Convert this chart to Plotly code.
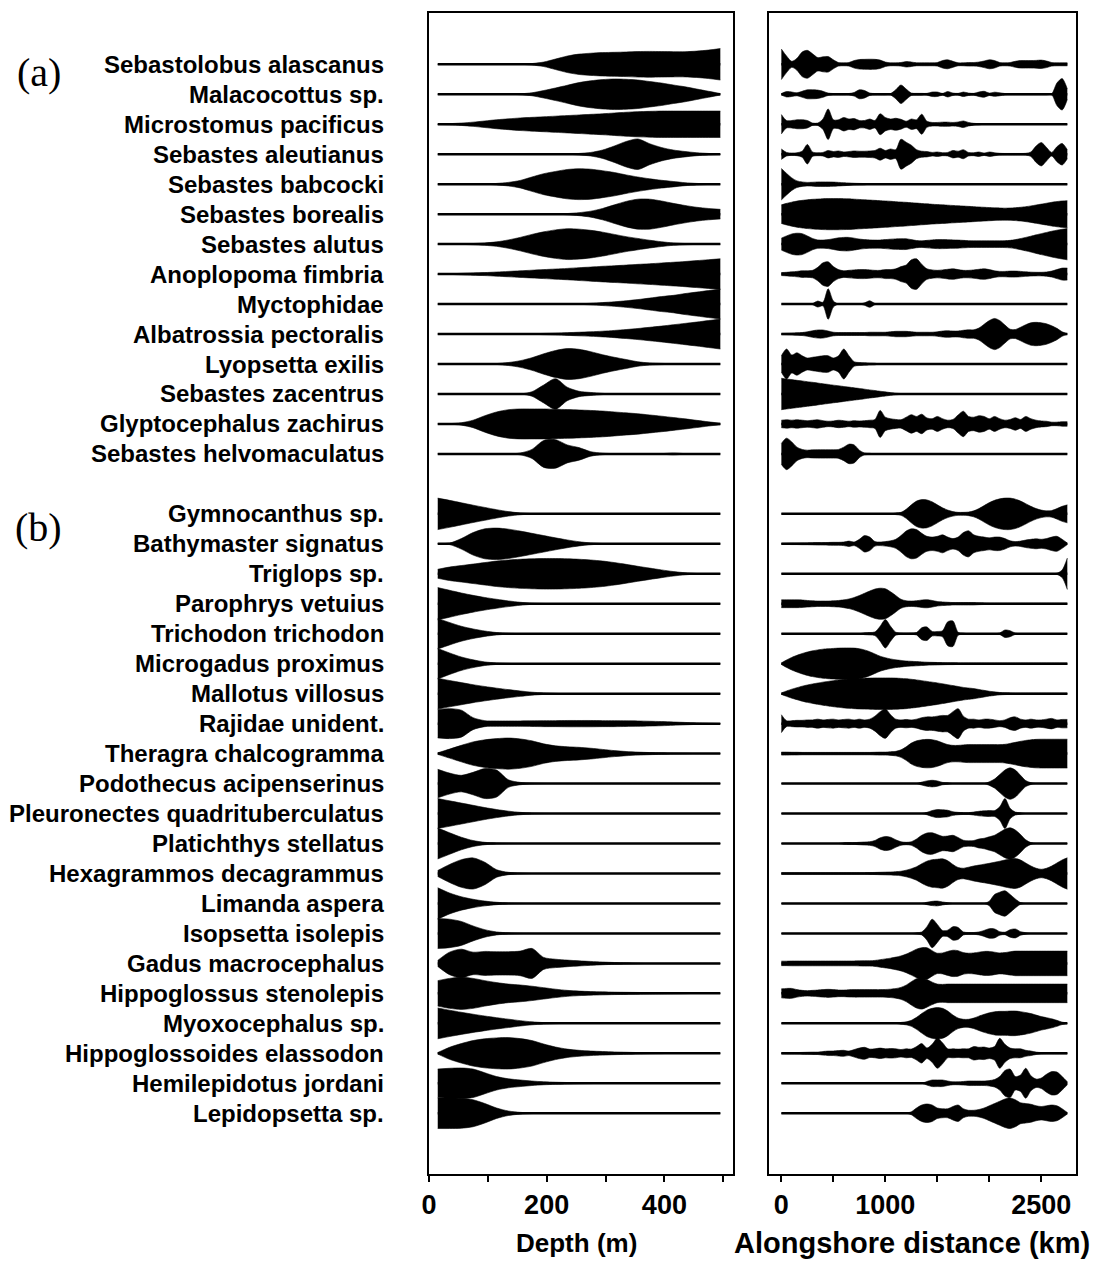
import plotly.graph_objects as go

# Sample positions along each axis
DEPTH_M = list(range(15, 500, 20))          # 25 depths, 15..495 m
ALONG_KM = list(range(0, 2751, 50))         # 56 positions, 0..2750 km

SPECIES_A = [
    "Sebastolobus alascanus", "Malacocottus sp.", "Microstomus pacificus",
    "Sebastes aleutianus", "Sebastes babcocki", "Sebastes borealis",
    "Sebastes alutus", "Anoplopoma fimbria", "Myctophidae",
    "Albatrossia pectoralis", "Lyopsetta exilis", "Sebastes zacentrus",
    "Glyptocephalus zachirus", "Sebastes helvomaculatus",
]
SPECIES_B = [
    "Gymnocanthus sp.", "Bathymaster signatus", "Triglops sp.",
    "Parophrys vetuius", "Trichodon trichodon", "Microgadus proximus",
    "Mallotus villosus", "Rajidae unident.", "Theragra chalcogramma",
    "Podothecus acipenserinus", "Pleuronectes quadrituberculatus",
    "Platichthys stellatus", "Hexagrammos decagrammus", "Limanda aspera",
    "Isopsetta isolepis", "Gadus macrocephalus", "Hippoglossus stenolepis",
    "Myoxocephalus sp.", "Hippoglossoides elassodon", "Hemilepidotus jordani",
    "Lepidopsetta sp.",
]

# Relative abundance by depth (one row per species, values at DEPTH_M)
DEPTH_A = [
    [0, 0, 0, 0, 0, 0, 0, 0, 0.05, 0.15, 0.35, 0.55, 0.68, 0.74, 0.78, 0.8, 0.82, 0.85, 0.86, 0.85, 0.84, 0.84, 0.88, 0.95, 1.05],
    [0, 0, 0, 0, 0, 0, 0, 0.03, 0.1, 0.25, 0.42, 0.6, 0.78, 0.9, 0.98, 1.02, 1.0, 0.95, 0.85, 0.75, 0.62, 0.5, 0.35, 0.2, 0.05],
    [0.02, 0.04, 0.08, 0.14, 0.22, 0.3, 0.36, 0.42, 0.46, 0.5, 0.54, 0.58, 0.62, 0.66, 0.7, 0.75, 0.8, 0.84, 0.86, 0.88, 0.88, 0.88, 0.88, 0.88, 0.88],
    [0, 0, 0, 0, 0, 0, 0, 0, 0, 0, 0, 0, 0.05, 0.12, 0.28, 0.55, 0.85, 1.02, 0.7, 0.45, 0.28, 0.18, 0.1, 0.05, 0.02],
    [0, 0, 0, 0, 0, 0.05, 0.12, 0.25, 0.48, 0.7, 0.85, 0.98, 1.03, 1.0, 0.9, 0.78, 0.62, 0.48, 0.36, 0.26, 0.18, 0.1, 0.05, 0.02, 0],
    [0, 0, 0, 0, 0, 0, 0, 0, 0, 0, 0, 0.04, 0.1, 0.2, 0.38, 0.62, 0.85, 1.0, 1.0, 0.88, 0.72, 0.58, 0.46, 0.38, 0.32],
    [0, 0, 0.02, 0.04, 0.08, 0.15, 0.28, 0.45, 0.65, 0.82, 0.95, 1.03, 1.0, 0.92, 0.8, 0.65, 0.5, 0.38, 0.26, 0.16, 0.08, 0.04, 0.02, 0.01, 0],
    [0.01, 0.02, 0.05, 0.08, 0.1, 0.14, 0.18, 0.22, 0.26, 0.3, 0.34, 0.38, 0.43, 0.47, 0.52, 0.56, 0.6, 0.65, 0.69, 0.74, 0.79, 0.84, 0.9, 0.96, 1.02],
    [0, 0, 0, 0, 0, 0, 0, 0, 0, 0, 0, 0, 0.02, 0.05, 0.1, 0.15, 0.22, 0.3, 0.4, 0.5, 0.58, 0.7, 0.8, 0.9, 1.0],
    [0, 0, 0, 0, 0, 0, 0, 0, 0.02, 0.04, 0.06, 0.09, 0.12, 0.15, 0.19, 0.24, 0.3, 0.37, 0.45, 0.53, 0.62, 0.71, 0.8, 0.9, 1.0],
    [0, 0, 0, 0, 0, 0.03, 0.1, 0.22, 0.42, 0.68, 0.9, 1.03, 0.98, 0.82, 0.62, 0.45, 0.3, 0.15, 0.07, 0.04, 0.02, 0, 0, 0, 0],
    [0, 0, 0, 0, 0, 0, 0, 0, 0.15, 0.6, 1.02, 0.45, 0.18, 0.1, 0.04, 0, 0, 0, 0, 0, 0, 0, 0, 0, 0],
    [0, 0.02, 0.08, 0.25, 0.55, 0.8, 0.95, 1.0, 1.0, 1.0, 0.98, 0.96, 0.93, 0.9, 0.86, 0.8, 0.74, 0.68, 0.6, 0.52, 0.43, 0.34, 0.24, 0.14, 0.05],
    [0, 0, 0, 0, 0, 0, 0, 0.06, 0.3, 0.9, 0.95, 0.6, 0.42, 0.15, 0.05, 0.02, 0.02, 0.02, 0.02, 0.02, 0.06, 0.02, 0, 0, 0],
]
DEPTH_B = [
    [1.05, 0.9, 0.74, 0.58, 0.43, 0.28, 0.15, 0.06, 0.02, 0, 0, 0, 0, 0, 0, 0, 0, 0, 0, 0, 0, 0, 0, 0, 0],
    [0.02, 0.05, 0.35, 0.75, 1.0, 1.05, 0.98, 0.85, 0.7, 0.55, 0.4, 0.26, 0.14, 0.06, 0.02, 0, 0, 0, 0, 0, 0, 0, 0, 0, 0],
    [0.3, 0.45, 0.55, 0.65, 0.75, 0.85, 0.92, 0.97, 1.0, 1.02, 1.02, 1.0, 0.97, 0.92, 0.85, 0.75, 0.63, 0.5, 0.38, 0.26, 0.15, 0.07, 0.02, 0, 0],
    [1.08, 0.9, 0.72, 0.56, 0.42, 0.3, 0.19, 0.1, 0.04, 0.02, 0, 0, 0, 0, 0, 0, 0, 0, 0, 0, 0, 0, 0, 0, 0],
    [1.02, 0.75, 0.5, 0.32, 0.18, 0.08, 0.03, 0.01, 0, 0, 0, 0, 0, 0, 0, 0, 0, 0, 0, 0, 0, 0, 0, 0, 0],
    [1.02, 0.72, 0.45, 0.26, 0.12, 0.05, 0.02, 0, 0, 0, 0, 0, 0, 0, 0, 0, 0, 0, 0, 0, 0, 0, 0, 0, 0],
    [1.03, 0.88, 0.74, 0.6, 0.48, 0.37, 0.27, 0.18, 0.1, 0.05, 0.02, 0, 0, 0, 0, 0, 0, 0, 0, 0, 0, 0, 0, 0, 0],
    [0.95, 1.0, 0.9, 0.4, 0.2, 0.18, 0.18, 0.18, 0.19, 0.2, 0.2, 0.21, 0.21, 0.21, 0.2, 0.2, 0.19, 0.18, 0.16, 0.14, 0.11, 0.08, 0.05, 0.03, 0.01],
    [0.05, 0.3, 0.55, 0.78, 0.92, 1.0, 1.04, 0.98, 0.85, 0.65, 0.52, 0.46, 0.42, 0.36, 0.28, 0.2, 0.14, 0.1, 0.07, 0.05, 0.03, 0.02, 0, 0, 0],
    [0.95, 0.7, 0.55, 0.75, 1.0, 0.9, 0.25, 0.08, 0.03, 0.01, 0, 0, 0, 0, 0, 0, 0, 0, 0, 0, 0, 0, 0, 0, 0],
    [1.0, 0.85, 0.7, 0.55, 0.4, 0.27, 0.16, 0.08, 0.03, 0.01, 0, 0, 0, 0, 0, 0, 0, 0, 0, 0, 0, 0, 0, 0, 0],
    [1.03, 0.72, 0.42, 0.2, 0.08, 0.03, 0.01, 0, 0, 0, 0, 0, 0, 0, 0, 0, 0, 0, 0, 0, 0, 0, 0, 0, 0],
    [0.2, 0.6, 0.92, 1.04, 0.75, 0.25, 0.08, 0.03, 0, 0, 0, 0, 0, 0, 0, 0, 0, 0, 0, 0, 0, 0, 0, 0, 0],
    [1.05, 0.7, 0.45, 0.28, 0.16, 0.08, 0.03, 0.01, 0, 0, 0, 0, 0, 0, 0, 0, 0, 0, 0, 0, 0, 0, 0, 0, 0],
    [1.0, 0.95, 0.8, 0.5, 0.25, 0.1, 0.04, 0.01, 0, 0, 0, 0, 0, 0, 0, 0, 0, 0, 0, 0, 0, 0, 0, 0, 0],
    [0.2, 0.75, 0.95, 0.75, 0.8, 0.78, 0.78, 0.82, 1.0, 0.4, 0.28, 0.22, 0.17, 0.13, 0.09, 0.06, 0.04, 0.02, 0, 0, 0, 0, 0, 0, 0],
    [0.85, 1.0, 1.07, 1.0, 0.85, 0.72, 0.62, 0.56, 0.48, 0.38, 0.28, 0.2, 0.15, 0.12, 0.1, 0.08, 0.07, 0.06, 0.05, 0.04, 0.03, 0.02, 0, 0, 0],
    [1.03, 0.88, 0.74, 0.61, 0.49, 0.38, 0.28, 0.18, 0.1, 0.05, 0.02, 0, 0, 0, 0, 0, 0, 0, 0, 0, 0, 0, 0, 0, 0],
    [0.05, 0.4, 0.65, 0.85, 0.97, 1.03, 1.05, 0.98, 0.85, 0.62, 0.42, 0.28, 0.2, 0.15, 0.12, 0.09, 0.07, 0.05, 0.03, 0.02, 0, 0, 0, 0, 0],
    [0.95, 1.0, 1.02, 0.95, 0.7, 0.45, 0.3, 0.22, 0.15, 0.1, 0.07, 0.05, 0.03, 0.02, 0, 0, 0, 0, 0, 0, 0, 0, 0, 0, 0],
    [1.02, 1.02, 1.0, 0.9, 0.65, 0.35, 0.15, 0.06, 0.02, 0, 0, 0, 0, 0, 0, 0, 0, 0, 0, 0, 0, 0, 0, 0, 0],
]

# Relative abundance along the coast (one row per species, values at ALONG_KM)
ALONG_A = [
    [1.02, 0.55, 0.2, 0.4, 0.82, 0.93, 0.7, 0.45, 0.5, 0.52,
     0.3, 0.12, 0.1, 0.12, 0.25, 0.32, 0.33, 0.34, 0.33, 0.28,
     0.15, 0.1, 0.1, 0.12, 0.18, 0.15, 0.1, 0.1, 0.1, 0.1,
     0.12, 0.25, 0.3, 0.2, 0.1, 0.1, 0.12, 0.12, 0.15, 0.22,
     0.3, 0.25, 0.12, 0.1, 0.12, 0.2, 0.25, 0.25, 0.25, 0.26,
     0.28, 0.22, 0.12, 0.1, 0.1, 0.1],
    [0.05, 0.18, 0.15, 0.1, 0.2, 0.3, 0.3, 0.28, 0.2, 0.08,
     0.05, 0.05, 0.05, 0.05, 0.12, 0.3, 0.25, 0.08, 0.05, 0.05,
     0.05, 0.05, 0.3, 0.62, 0.35, 0.08, 0.06, 0.06, 0.06, 0.15,
     0.15, 0.06, 0.18, 0.08, 0.06, 0.15, 0.08, 0.06, 0.15, 0.2,
     0.08, 0.14, 0.1, 0.05, 0.04, 0.04, 0.04, 0.04, 0.04, 0.04,
     0.04, 0.04, 0.04, 0.75, 1.05, 0.35],
    [0.65, 0.25, 0.25, 0.3, 0.3, 0.25, 0.08, 0.08, 0.35, 1.02,
     0.3, 0.3, 0.45, 0.35, 0.38, 0.25, 0.25, 0.35, 0.25, 0.7,
     0.45, 0.35, 0.4, 0.33, 0.2, 0.35, 0.3, 0.67, 0.2, 0.12,
     0.12, 0.14, 0.14, 0.12, 0.15, 0.22, 0.12, 0.06, 0.04, 0,
     0, 0, 0, 0, 0, 0, 0, 0, 0, 0,
     0, 0, 0, 0, 0, 0],
    [0.35, 0.12, 0.08, 0.1, 0.2, 0.65, 0.15, 0.1, 0.12, 0.25,
     0.18, 0.22, 0.15, 0.18, 0.22, 0.2, 0.2, 0.22, 0.25, 0.4,
     0.25, 0.35, 0.3, 1.0, 0.8, 0.6, 0.3, 0.2, 0.18, 0.12,
     0.15, 0.1, 0.12, 0.25, 0.2, 0.3, 0.12, 0.1, 0.15, 0.08,
     0.15, 0.1, 0.06, 0.05, 0.05, 0.05, 0.05, 0.06, 0.15, 0.55,
     0.78, 0.45, 0.12, 0.5, 0.72, 0.3],
    [1.05, 0.72, 0.42, 0.22, 0.15, 0.12, 0.13, 0.15, 0.15, 0.15,
     0.14, 0.12, 0.1, 0.08, 0.06, 0.05, 0.04, 0, 0, 0,
     0, 0, 0, 0, 0, 0, 0, 0, 0, 0,
     0, 0, 0, 0, 0, 0, 0, 0, 0, 0,
     0, 0, 0, 0, 0, 0, 0, 0, 0, 0,
     0, 0, 0, 0, 0, 0],
    [0.62, 0.72, 0.8, 0.87, 0.92, 0.96, 0.99, 1.01, 1.03, 1.04,
     1.04, 1.04, 1.03, 1.02, 1.0, 0.98, 0.96, 0.94, 0.92, 0.9,
     0.88, 0.86, 0.83, 0.81, 0.79, 0.76, 0.74, 0.71, 0.69, 0.66,
     0.64, 0.62, 0.6, 0.58, 0.56, 0.54, 0.52, 0.5, 0.48, 0.46,
     0.44, 0.42, 0.41, 0.4, 0.41, 0.43, 0.46, 0.5, 0.55, 0.61,
     0.67, 0.73, 0.79, 0.84, 0.88, 0.9],
    [0.4, 0.55, 0.68, 0.73, 0.7, 0.55, 0.38, 0.28, 0.27, 0.3,
     0.36, 0.42, 0.45, 0.45, 0.4, 0.34, 0.3, 0.28, 0.27, 0.27,
     0.3, 0.33, 0.35, 0.36, 0.36, 0.3, 0.24, 0.22, 0.25, 0.28,
     0.3, 0.3, 0.29, 0.28, 0.27, 0.25, 0.23, 0.22, 0.22, 0.22,
     0.22, 0.22, 0.22, 0.23, 0.25, 0.3, 0.37, 0.45, 0.53, 0.62,
     0.7, 0.78, 0.86, 0.93, 0.99, 1.05],
    [0.1, 0.12, 0.15, 0.18, 0.22, 0.22, 0.25, 0.45, 0.75, 0.82,
     0.5, 0.3, 0.22, 0.25, 0.28, 0.3, 0.3, 0.28, 0.25, 0.25,
     0.3, 0.3, 0.35, 0.5, 0.6, 0.95, 1.02, 0.65, 0.35, 0.28,
     0.25, 0.28, 0.32, 0.35, 0.3, 0.25, 0.25, 0.28, 0.32, 0.35,
     0.3, 0.22, 0.18, 0.18, 0.2, 0.2, 0.18, 0.15, 0.13, 0.12,
     0.12, 0.14, 0.2, 0.3, 0.4, 0.4],
    [0, 0, 0, 0, 0, 0, 0.04, 0.2, 0.12, 1.02,
     0.2, 0, 0, 0, 0, 0, 0.08, 0.22, 0.04, 0,
     0, 0, 0, 0, 0, 0, 0, 0, 0, 0,
     0, 0, 0, 0, 0, 0, 0, 0, 0, 0,
     0, 0, 0, 0, 0, 0, 0, 0, 0, 0,
     0, 0, 0, 0, 0, 0],
    [0.04, 0.05, 0.06, 0.08, 0.1, 0.15, 0.22, 0.27, 0.27, 0.2,
     0.12, 0.1, 0.1, 0.1, 0.1, 0.1, 0.1, 0.12, 0.12, 0.12,
     0.12, 0.15, 0.18, 0.18, 0.18, 0.15, 0.12, 0.12, 0.12, 0.12,
     0.15, 0.2, 0.22, 0.2, 0.2, 0.25, 0.28, 0.28, 0.4, 0.65,
     0.9, 1.04, 0.9, 0.6, 0.32, 0.3, 0.45, 0.62, 0.75, 0.78,
     0.75, 0.68, 0.55, 0.38, 0.15, 0.02],
    [0.55, 1.0, 0.6, 0.75, 0.55, 0.4, 0.45, 0.5, 0.55, 0.55,
     0.4, 0.55, 1.0, 0.55, 0.15, 0.1, 0.08, 0.06, 0.05, 0,
     0, 0, 0, 0, 0, 0, 0, 0, 0, 0,
     0, 0, 0, 0, 0, 0, 0, 0, 0, 0,
     0, 0, 0, 0, 0, 0, 0, 0, 0, 0,
     0, 0, 0, 0, 0, 0],
    [1.05, 1.0, 0.96, 0.91, 0.87, 0.82, 0.78, 0.73, 0.68, 0.64,
     0.59, 0.55, 0.5, 0.46, 0.41, 0.37, 0.32, 0.27, 0.23, 0.18,
     0.14, 0.09, 0.05, 0.03, 0, 0, 0, 0, 0, 0,
     0, 0, 0, 0, 0, 0, 0, 0, 0, 0,
     0, 0, 0, 0, 0, 0, 0, 0, 0, 0,
     0, 0, 0, 0, 0, 0],
    [0.25, 0.28, 0.25, 0.28, 0.25, 0.22, 0.25, 0.28, 0.22, 0.18,
     0.2, 0.25, 0.22, 0.18, 0.22, 0.2, 0.22, 0.25, 0.3, 0.9,
     0.45, 0.35, 0.3, 0.28, 0.45, 0.62, 0.5, 0.65, 0.4, 0.35,
     0.5, 0.35, 0.25, 0.3, 0.6, 0.85, 0.5, 0.45, 0.55, 0.5,
     0.35, 0.5, 0.35, 0.25, 0.3, 0.42, 0.3, 0.5, 0.35, 0.25,
     0.2, 0.18, 0.12, 0.12, 0.15, 0.15],
    [0.7, 1.05, 0.8, 0.45, 0.3, 0.25, 0.27, 0.28, 0.28, 0.28,
     0.28, 0.3, 0.45, 0.65, 0.6, 0.25, 0.06, 0.04, 0, 0,
     0, 0, 0, 0, 0, 0, 0, 0, 0, 0,
     0, 0, 0, 0, 0, 0, 0, 0, 0, 0,
     0, 0, 0, 0, 0, 0, 0, 0, 0, 0,
     0, 0, 0, 0, 0, 0],
]
ALONG_B = [
    [0, 0, 0, 0, 0, 0, 0, 0, 0, 0,
     0, 0, 0, 0, 0, 0, 0, 0, 0, 0,
     0, 0, 0.05, 0.1, 0.3, 0.6, 0.85, 0.95, 0.93, 0.8,
     0.6, 0.4, 0.25, 0.15, 0.1, 0.1, 0.12, 0.2, 0.35, 0.55,
     0.75, 0.9, 1.0, 1.05, 1.05, 0.98, 0.85, 0.68, 0.5, 0.35,
     0.25, 0.2, 0.22, 0.35, 0.5, 0.6],
    [0.03, 0.04, 0.05, 0.05, 0.06, 0.06, 0.07, 0.08, 0.08, 0.09,
     0.1, 0.1, 0.12, 0.18, 0.12, 0.3, 0.55, 0.45, 0.15, 0.12,
     0.15, 0.2, 0.3, 0.55, 0.85, 1.0, 0.95, 0.7, 0.5, 0.45,
     0.5, 0.6, 0.45, 0.35, 0.45, 0.75, 0.87, 0.6, 0.5, 0.45,
     0.4, 0.45, 0.45, 0.35, 0.2, 0.15, 0.18, 0.25, 0.3, 0.33,
     0.3, 0.35, 0.45, 0.5, 0.3, 0.05],
    [0, 0, 0, 0, 0, 0, 0, 0, 0, 0,
     0, 0, 0, 0, 0, 0, 0, 0, 0, 0,
     0, 0, 0, 0, 0, 0, 0, 0, 0, 0,
     0, 0, 0, 0, 0, 0, 0, 0, 0, 0,
     0, 0, 0, 0, 0, 0, 0, 0, 0, 0,
     0, 0, 0, 0.04, 0.25, 1.05],
    [0.26, 0.26, 0.26, 0.26, 0.25, 0.22, 0.2, 0.18, 0.18, 0.18,
     0.2, 0.22, 0.26, 0.32, 0.42, 0.55, 0.7, 0.85, 0.98, 1.04,
     1.0, 0.8, 0.55, 0.3, 0.2, 0.18, 0.2, 0.25, 0.27, 0.22,
     0.15, 0.12, 0.1, 0.08, 0.08, 0.08, 0.08, 0.08, 0.06, 0.05,
     0.04, 0.04, 0.04, 0.04, 0.04, 0.04, 0.04, 0.04, 0.04, 0.04,
     0.04, 0.04, 0.04, 0.04, 0.04, 0.04],
    [0, 0, 0, 0, 0, 0, 0, 0, 0, 0,
     0, 0, 0, 0, 0, 0, 0.06, 0.08, 0.12, 0.5,
     0.95, 0.5, 0.1, 0.05, 0.04, 0.05, 0.08, 0.4, 0.45, 0.15,
     0.15, 0.2, 0.8, 0.85, 0.1, 0.04, 0, 0, 0, 0,
     0, 0, 0.05, 0.25, 0.2, 0.04, 0, 0, 0, 0,
     0, 0, 0, 0, 0, 0],
    [0.05, 0.25, 0.42, 0.56, 0.68, 0.78, 0.86, 0.92, 0.97, 1.0,
     1.02, 1.04, 1.05, 1.05, 1.04, 1.0, 0.92, 0.8, 0.65, 0.5,
     0.4, 0.32, 0.26, 0.22, 0.18, 0.16, 0.14, 0.12, 0.1, 0.09,
     0.08, 0.07, 0.06, 0.06, 0.05, 0.05, 0.05, 0.05, 0.05, 0.05,
     0.05, 0.05, 0.05, 0.05, 0.05, 0.05, 0.05, 0.05, 0.05, 0.05,
     0.05, 0.05, 0.05, 0.05, 0.05, 0.05],
    [0.05, 0.18, 0.3, 0.4, 0.5, 0.58, 0.65, 0.71, 0.77, 0.82,
     0.87, 0.91, 0.95, 0.98, 1.0, 1.02, 1.03, 1.04, 1.05, 1.05,
     1.05, 1.05, 1.04, 1.02, 1.0, 0.96, 0.92, 0.87, 0.82, 0.77,
     0.72, 0.66, 0.6, 0.54, 0.48, 0.42, 0.38, 0.34, 0.28, 0.22,
     0.16, 0.12, 0.08, 0.06, 0.05, 0.04, 0.04, 0.04, 0.04, 0.04,
     0.04, 0.04, 0.04, 0.04, 0.04, 0.04],
    [0.6, 0.2, 0.2, 0.22, 0.22, 0.25, 0.25, 0.3, 0.25, 0.28,
     0.3, 0.25, 0.28, 0.3, 0.25, 0.3, 0.25, 0.3, 0.5, 0.8,
     0.98, 0.6, 0.3, 0.25, 0.28, 0.25, 0.3, 0.4, 0.45, 0.45,
     0.5, 0.55, 0.55, 0.8, 1.0, 0.5, 0.3, 0.3, 0.25, 0.3,
     0.3, 0.25, 0.2, 0.25, 0.4, 0.45, 0.3, 0.25, 0.3, 0.25,
     0.25, 0.3, 0.35, 0.25, 0.28, 0.28],
    [0.1, 0.1, 0.09, 0.09, 0.08, 0.08, 0.08, 0.08, 0.08, 0.08,
     0.08, 0.08, 0.08, 0.08, 0.08, 0.08, 0.08, 0.08, 0.09, 0.1,
     0.1, 0.12, 0.15, 0.25, 0.45, 0.7, 0.85, 0.92, 0.95, 0.93,
     0.85, 0.72, 0.6, 0.55, 0.55, 0.58, 0.6, 0.6, 0.6, 0.6,
     0.6, 0.6, 0.6, 0.62, 0.68, 0.75, 0.82, 0.88, 0.92, 0.95,
     0.96, 0.96, 0.96, 0.96, 0.96, 0.96],
    [0, 0, 0, 0, 0, 0, 0, 0, 0, 0,
     0, 0, 0, 0, 0, 0, 0, 0, 0, 0,
     0, 0, 0, 0, 0, 0, 0, 0.1, 0.18, 0.22,
     0.18, 0.08, 0.05, 0, 0, 0, 0, 0, 0, 0,
     0.12, 0.3, 0.6, 0.9, 1.05, 0.9, 0.55, 0.2, 0.06, 0,
     0, 0, 0, 0, 0, 0],
    [0, 0, 0, 0, 0, 0, 0, 0, 0, 0,
     0, 0, 0, 0, 0, 0, 0, 0, 0, 0,
     0, 0, 0, 0, 0, 0, 0, 0, 0.08, 0.2,
     0.27, 0.25, 0.22, 0.12, 0.08, 0.06, 0.06, 0.1, 0.15, 0.18,
     0.2, 0.2, 0.45, 1.0, 0.35, 0.1, 0.05, 0, 0, 0,
     0, 0, 0, 0, 0, 0],
    [0, 0, 0, 0, 0, 0, 0, 0, 0, 0,
     0, 0, 0.05, 0.06, 0.06, 0.08, 0.1, 0.12, 0.2, 0.38,
     0.47, 0.42, 0.25, 0.12, 0.08, 0.12, 0.3, 0.55, 0.7, 0.72,
     0.6, 0.48, 0.5, 0.55, 0.4, 0.22, 0.18, 0.2, 0.3, 0.35,
     0.45, 0.55, 0.75, 0.95, 1.05, 0.9, 0.6, 0.25, 0.06, 0,
     0, 0, 0, 0, 0, 0],
    [0.05, 0.05, 0.05, 0.05, 0.05, 0.05, 0.05, 0.05, 0.05, 0.05,
     0.05, 0.05, 0.05, 0.05, 0.05, 0.05, 0.05, 0.06, 0.07, 0.08,
     0.09, 0.1, 0.12, 0.15, 0.22, 0.32, 0.45, 0.65, 0.82, 0.92,
     0.95, 0.98, 0.85, 0.6, 0.4, 0.35, 0.42, 0.5, 0.56, 0.62,
     0.68, 0.75, 0.82, 0.9, 0.97, 1.0, 0.9, 0.7, 0.5, 0.35,
     0.28, 0.35, 0.5, 0.7, 0.9, 1.05],
    [0, 0, 0, 0, 0, 0, 0, 0, 0, 0,
     0, 0, 0, 0, 0, 0, 0, 0, 0, 0,
     0, 0, 0, 0, 0, 0, 0, 0, 0.08, 0.14,
     0.16, 0.1, 0.05, 0, 0, 0, 0, 0, 0, 0,
     0.15, 0.6, 0.75, 0.85, 0.6, 0.3, 0.06, 0, 0, 0,
     0, 0, 0, 0, 0, 0],
    [0, 0, 0, 0, 0, 0, 0, 0, 0, 0,
     0, 0, 0, 0, 0, 0, 0, 0, 0, 0,
     0, 0, 0, 0, 0, 0, 0.04, 0.1, 0.45, 0.95,
     0.6, 0.2, 0.22, 0.45, 0.4, 0.1, 0.06, 0.06, 0.1, 0.2,
     0.32, 0.3, 0.12, 0.08, 0.25, 0.3, 0.12, 0.05, 0, 0,
     0, 0, 0, 0, 0, 0],
    [0.15, 0.15, 0.16, 0.16, 0.16, 0.16, 0.16, 0.16, 0.16, 0.16,
     0.16, 0.16, 0.16, 0.16, 0.16, 0.17, 0.18, 0.18, 0.2, 0.25,
     0.3, 0.35, 0.42, 0.5, 0.62, 0.78, 0.95, 1.05, 1.05, 0.85,
     0.68, 0.7, 0.8, 0.88, 0.85, 0.72, 0.68, 0.7, 0.75, 0.8,
     0.8, 0.75, 0.7, 0.72, 0.78, 0.82, 0.82, 0.82, 0.82, 0.82,
     0.82, 0.82, 0.82, 0.82, 0.82, 0.82],
    [0.3, 0.33, 0.33, 0.25, 0.2, 0.18, 0.2, 0.22, 0.25, 0.27,
     0.25, 0.22, 0.22, 0.24, 0.25, 0.25, 0.25, 0.25, 0.25, 0.25,
     0.26, 0.28, 0.32, 0.4, 0.55, 0.78, 0.98, 1.05, 0.92, 0.75,
     0.62, 0.6, 0.62, 0.62, 0.62, 0.62, 0.62, 0.62, 0.62, 0.62,
     0.62, 0.62, 0.62, 0.62, 0.62, 0.62, 0.62, 0.62, 0.62, 0.62,
     0.62, 0.62, 0.62, 0.62, 0.62, 0.62],
    [0, 0, 0, 0, 0, 0, 0, 0, 0, 0,
     0, 0, 0, 0, 0, 0, 0, 0, 0, 0,
     0, 0, 0, 0.06, 0.1, 0.2, 0.4, 0.65, 0.88, 1.0,
     1.05, 1.0, 0.82, 0.55, 0.35, 0.27, 0.27, 0.35, 0.48, 0.6,
     0.7, 0.77, 0.8, 0.8, 0.82, 0.82, 0.78, 0.72, 0.65, 0.55,
     0.45, 0.38, 0.3, 0.2, 0.08, 0.03],
    [0.04, 0.05, 0.05, 0.05, 0.06, 0.07, 0.08, 0.08, 0.12, 0.15,
     0.15, 0.18, 0.2, 0.15, 0.25, 0.35, 0.4, 0.28, 0.3, 0.35,
     0.3, 0.32, 0.3, 0.25, 0.3, 0.28, 0.45, 0.65, 0.35, 0.6,
     1.0, 0.7, 0.3, 0.3, 0.28, 0.3, 0.3, 0.45, 0.4, 0.42,
     0.35, 0.45, 1.0, 0.6, 0.35, 0.3, 0.3, 0.2, 0.15, 0.08,
     0.05, 0.04, 0.04, 0.04, 0.04, 0.04],
    [0, 0, 0, 0, 0, 0, 0, 0, 0, 0,
     0, 0, 0, 0, 0, 0, 0, 0, 0, 0,
     0, 0, 0, 0, 0, 0, 0, 0, 0.12, 0.22,
     0.22, 0.22, 0.15, 0.1, 0.1, 0.12, 0.15, 0.15, 0.15, 0.15,
     0.18, 0.25, 0.45, 0.85, 0.95, 0.45, 0.55, 1.0, 0.5, 0.28,
     0.35, 0.6, 0.78, 0.75, 0.45, 0.1],
    [0, 0, 0, 0, 0, 0, 0, 0, 0, 0,
     0, 0, 0, 0, 0, 0, 0, 0, 0, 0,
     0, 0, 0, 0, 0, 0.1, 0.35, 0.55, 0.62, 0.55,
     0.35, 0.3, 0.3, 0.45, 0.55, 0.3, 0.2, 0.2, 0.25, 0.35,
     0.5, 0.65, 0.8, 0.95, 1.02, 0.9, 0.7, 0.65, 0.6, 0.5,
     0.45, 0.5, 0.55, 0.5, 0.3, 0.05],
]

for rows, grid in ((DEPTH_A, DEPTH_M), (DEPTH_B, DEPTH_M), (ALONG_A, ALONG_KM), (ALONG_B, ALONG_KM)):
    for r in rows:
        assert len(r) == len(grid), (len(r), len(grid))

# Row slots: group (a) in slots 0..13, one empty slot, group (b) in 15..35
ROWS_A = list(range(len(SPECIES_A)))
ROWS_B = [len(SPECIES_A) + 1 + i for i in range(len(SPECIES_B))]
HALF = 0.5  # half-width (in row units) drawn for an abundance of 1

W, H = 1098, 1262
PLOT_TOP, PLOT_BOTTOM = 13, 1174
ROW0_PX, ROW_STEP_PX = 64.3, 29.97
Y_TOP = (PLOT_TOP - ROW0_PX) / ROW_STEP_PX
Y_BOTTOM = (PLOT_BOTTOM - ROW0_PX) / ROW_STEP_PX

fig = go.Figure()


def add_kite(xs, vals, row, xa, ya):
    edge = dict(color="black", width=0.6, shape="spline", smoothing=0.8)
    common = dict(mode="lines", xaxis=xa, yaxis=ya, hoverinfo="skip", showlegend=False)
    fig.add_trace(go.Scatter(x=xs, y=[row + v * HALF for v in vals], line=edge, **common))
    fig.add_trace(go.Scatter(x=xs, y=[row - v * HALF for v in vals], line=edge,
                             fill="tonexty", fillcolor="black", **common))
    fig.add_trace(go.Scatter(x=[xs[0], xs[-1]], y=[row, row],
                             line=dict(color="black", width=2.5), **common))


for rows, dvals, avals in ((ROWS_A, DEPTH_A, ALONG_A), (ROWS_B, DEPTH_B, ALONG_B)):
    for row, dv, av in zip(rows, dvals, avals):
        add_kite(DEPTH_M, dv, row, "x", "y")
        add_kite(ALONG_KM, av, row, "x2", "y2")

sans = "Liberation Sans, Arial, Helvetica, sans-serif"
tick_font = dict(family=sans, size=27, color="black", weight="bold")

frame = dict(showline=True, linecolor="black", linewidth=2, mirror=True,
             showgrid=False, zeroline=False)
ydom = [1 - PLOT_BOTTOM / H, 1 - PLOT_TOP / H]
yax = dict(domain=ydom, range=[Y_BOTTOM, Y_TOP], showticklabels=False, ticks="", **frame)

fig.update_layout(
    width=W, height=H,
    margin=dict(l=0, r=0, t=0, b=0),
    paper_bgcolor="white", plot_bgcolor="white",
    showlegend=False,
    xaxis=dict(domain=[424 / W, 730 / W], range=[0, 516], anchor="y",
               tickvals=[0, 100, 200, 300, 400, 500],
               ticktext=["0", "", "200", "", "400", ""],
               ticks="outside", ticklen=6, tickwidth=2, tickcolor="black",
               tickfont=tick_font, **frame),
    xaxis2=dict(domain=[767 / W, 1076 / W], range=[-115, 2835], anchor="y2",
                tickvals=[0, 500, 1000, 1500, 2000, 2500],
                ticktext=["0", "", "1000", "", "", "2500"],
                ticks="outside", ticklen=6, tickwidth=2, tickcolor="black",
                tickfont=tick_font, **frame),
    yaxis=dict(anchor="x", **yax),
    yaxis2=dict(anchor="x2", **yax),
)

annotations = []
for names, rows in ((SPECIES_A, ROWS_A), (SPECIES_B, ROWS_B)):
    for name, row in zip(names, rows):
        annotations.append(dict(
            text=name, xref="paper", x=381 / W, xanchor="right",
            yref="y", y=row, yanchor="middle", showarrow=False,
            font=dict(family=sans, size=24, color="black", weight="bold")))

for label, ypx in (("(a)", 72), ("(b)", 527)):
    annotations.append(dict(
        text=label, xref="paper", x=31 / W, xanchor="center",
        yref="paper", y=1 - ypx / H, yanchor="middle", showarrow=False,
        font=dict(family="Liberation Serif, Times New Roman, serif", size=40, color="black")))

for title, xpx, size in (("Depth (m)", 573, 26), ("Alongshore distance (km)", 911, 29)):
    annotations.append(dict(
        text=title, xref="paper", x=xpx / W, xanchor="center",
        yref="paper", y=1 - 1243 / H, yanchor="middle", showarrow=False,
        font=dict(family=sans, size=size, color="black", weight="bold")))

fig.update_layout(annotations=annotations)
fig.write_html("out.html")
